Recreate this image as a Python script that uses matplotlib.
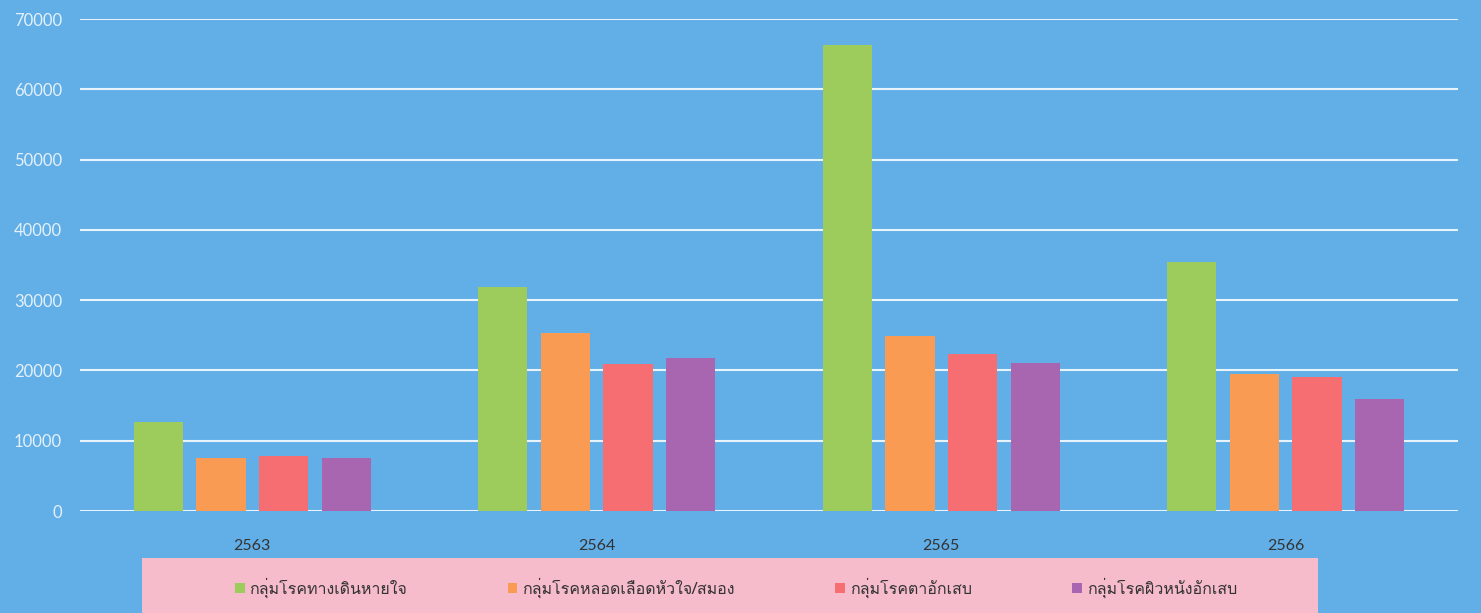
import matplotlib
matplotlib.use("Agg")
import matplotlib.pyplot as plt
import numpy as np
from matplotlib import font_manager
from matplotlib.ft2font import FT2Font
from matplotlib.patches import Rectangle

years = ["2563", "2564", "2565", "2566"]
series_names = ["กลุ่มโรคทางเดินหายใจ", "กลุ่มโรคหลอดเลือดหัวใจ/สมอง", "กลุ่มโรคตาอักเสบ", "กลุ่มโรคผิวหนังอักเสบ"]
respiratory = [12600, 31800, 66300, 35400]
cardio = [7600, 25300, 24900, 19500]
eye = [7800, 20900, 22300, 19100]
skin = [7500, 21700, 21000, 15900]
yticks = [0, 10000, 20000, 30000, 40000, 50000, 60000, 70000]

colors = ["#9dcb5c", "#fa9b53", "#f66e72", "#a866b1"]
bg = "#62aee6"

# find a font with Thai glyphs
thai_family = None
for f in font_manager.fontManager.ttflist:
    try:
        cm = FT2Font(f.fname).get_charmap()
        if 0x0E01 in cm and 0x0E48 in cm:
            thai_family = f.name
            break
    except Exception:
        pass
families = ([thai_family] if thai_family else []) + ["DejaVu Sans"]
plt.rcParams["font.family"] = families

fig = plt.figure(figsize=(14.81, 6.13), dpi=100, facecolor=bg)
ax = fig.add_axes([80/1481, 1-511/613, (1458-80)/1481, (511-19)/613])
ax.set_facecolor(bg)

x = np.arange(len(years))
w = 0.143
step = 0.182
data = [respiratory, cardio, eye, skin]
for i, (vals, c, name) in enumerate(zip(data, colors, series_names)):
    ax.bar(x + (i - 1.5) * step, vals, width=w, color=c, label=name, zorder=3)

ax.set_ylim(0, 70000)
ax.set_xlim(-0.5, len(years) - 0.5)
ax.set_yticks(yticks)
ax.set_yticklabels([str(v) for v in yticks], color="#e4f1fb", fontsize=12,
                   family=["Lato", "DejaVu Sans"])
ax.set_xticks(x)
ax.set_xticklabels(years, color="#333333", fontsize=11.5, family=["Lato", "DejaVu Sans"])
ax.tick_params(axis="both", length=0)
ax.tick_params(axis="x", pad=20)
ax.tick_params(axis="y", pad=13)
ax.grid(axis="y", color="#e8f4fc", linewidth=1.5, zorder=1)
for s in ax.spines.values():
    s.set_visible(False)

# pink legend band
fig.patches.append(Rectangle((142/1481, 0), (1318-142)/1481, (613-558)/613,
                             transform=fig.transFigure, facecolor="#f6bccb",
                             edgecolor="none", zorder=0))
handles, labels = ax.get_legend_handles_labels()
leg = fig.legend(handles, labels, loc="center", bbox_to_anchor=(736/1481, 1-588/613),
                 ncol=4, frameon=False, fontsize=11.5, handlelength=0.6, handleheight=0.6,
                 handletextpad=0.3, columnspacing=6.3)
for t in leg.get_texts():
    t.set_color("#333333")

fig.savefig("out.png", dpi=100, facecolor=bg)
